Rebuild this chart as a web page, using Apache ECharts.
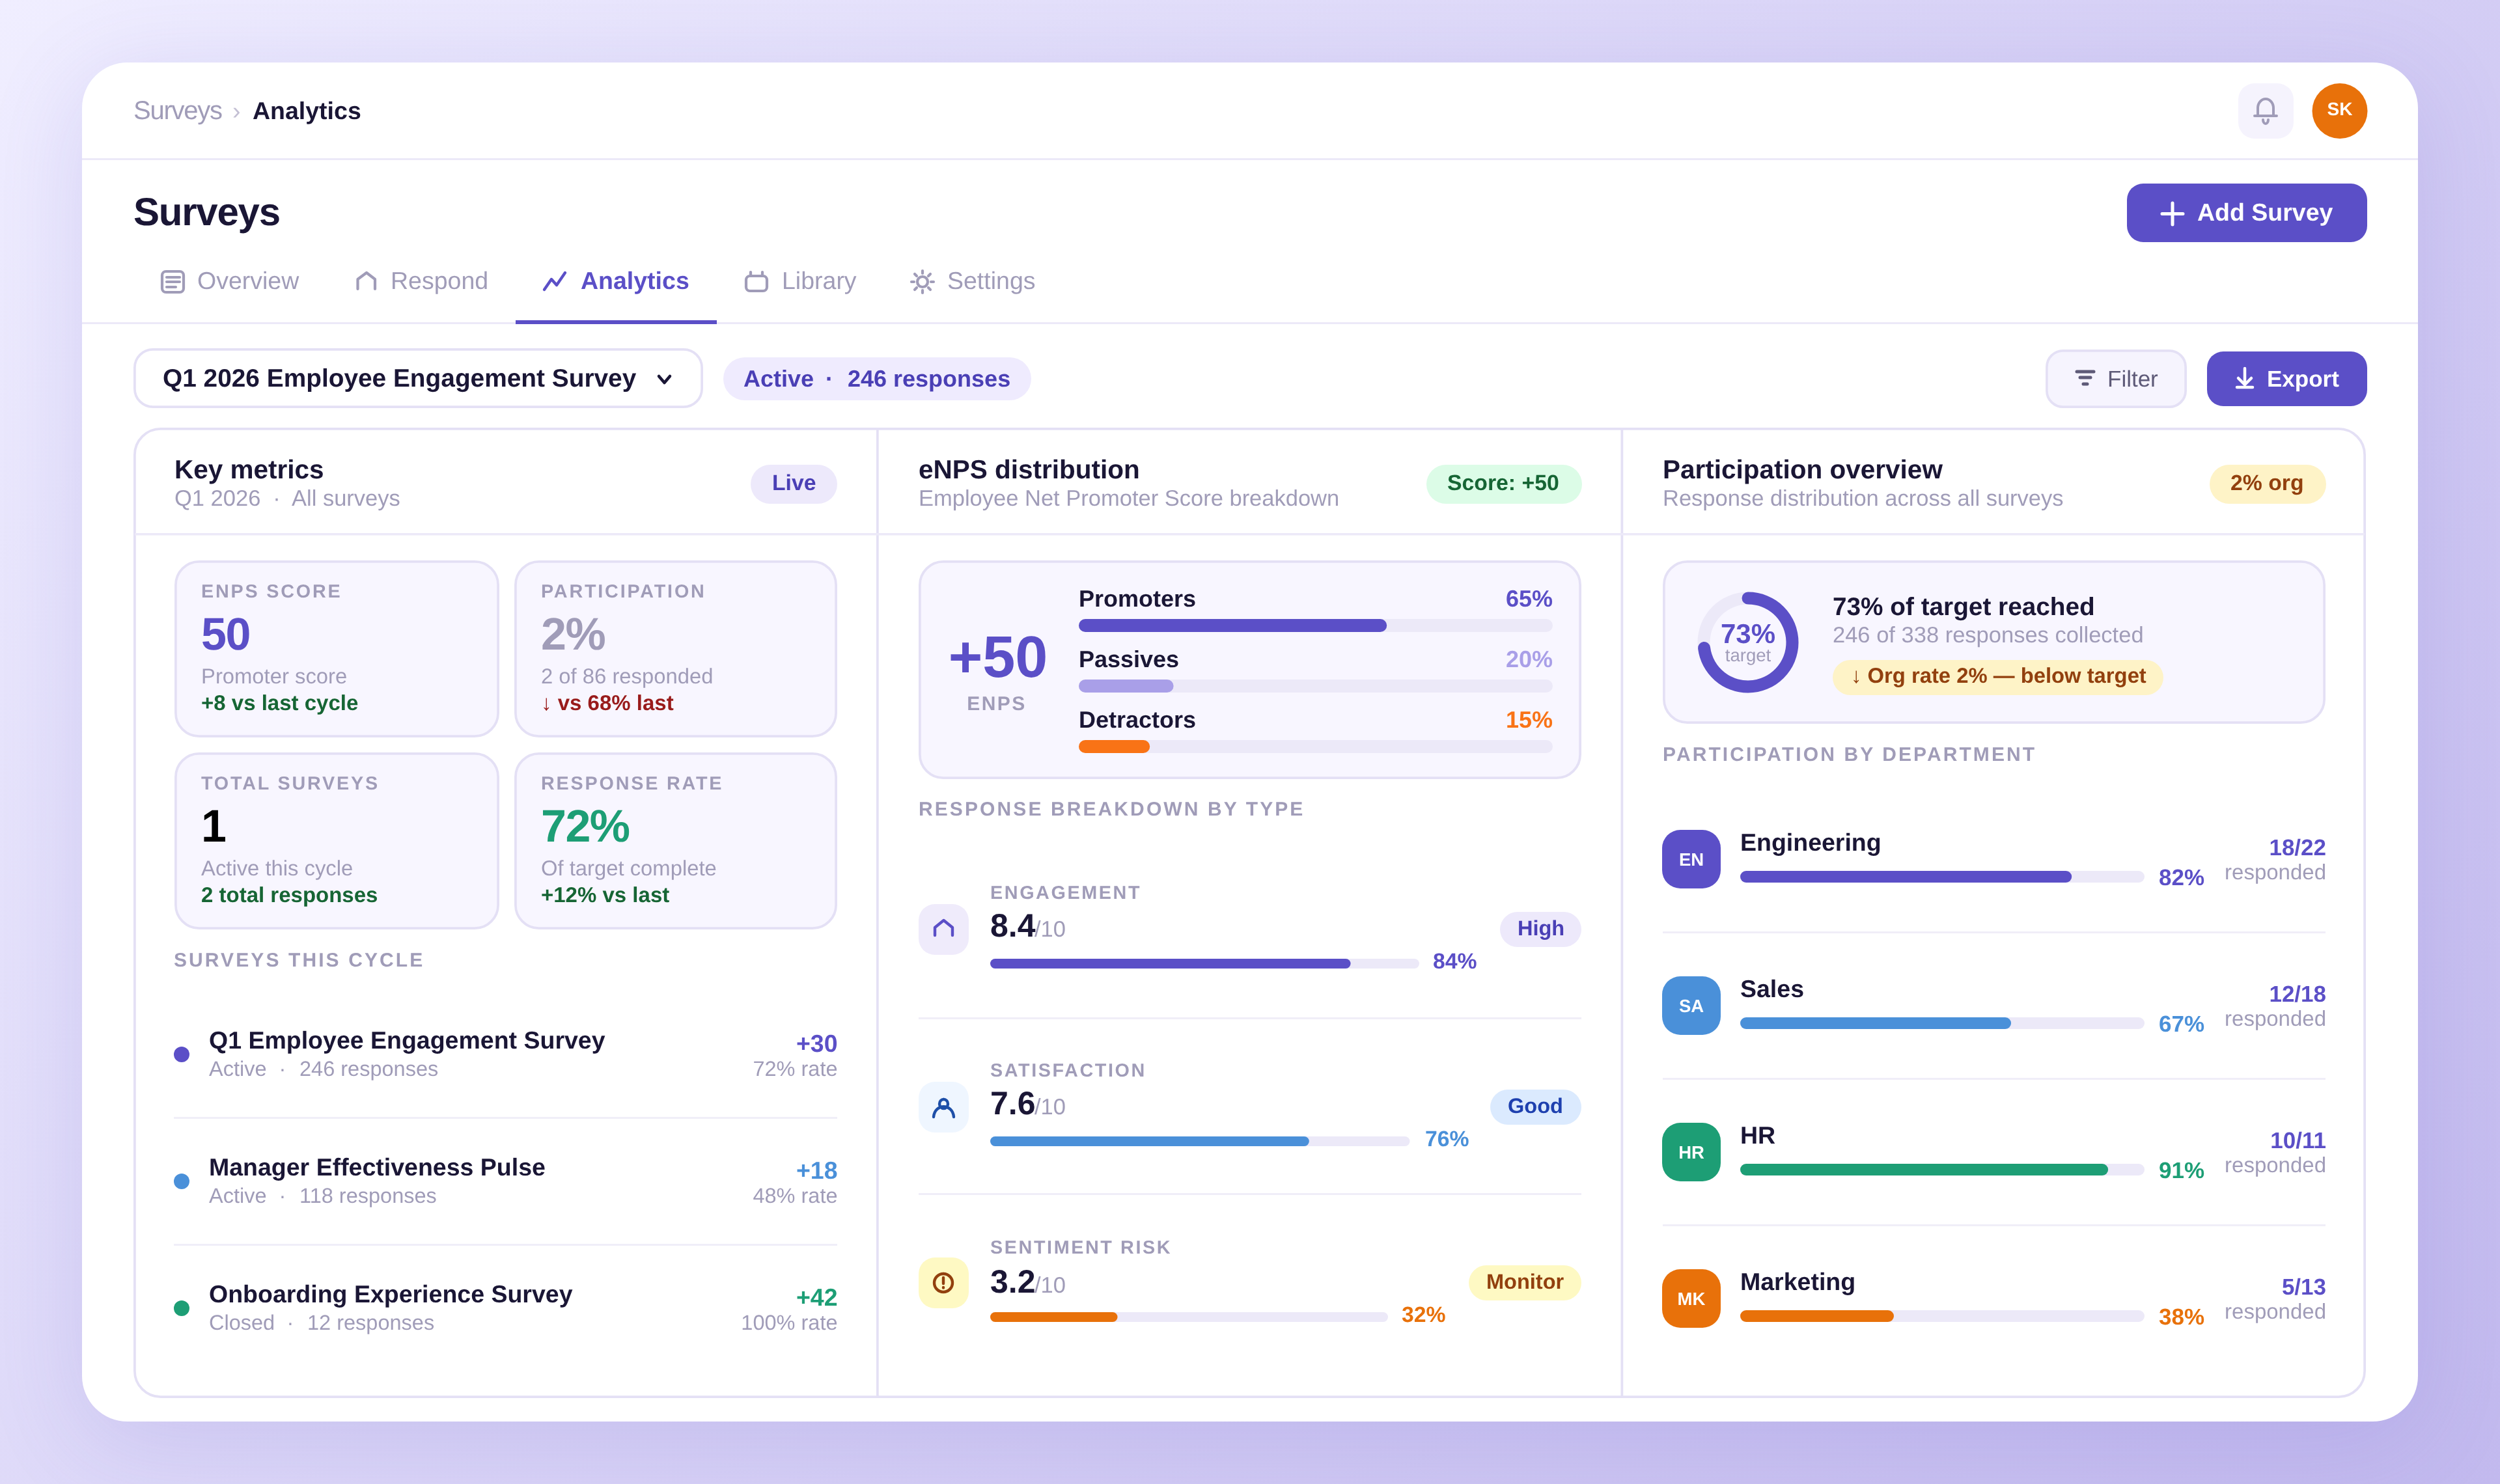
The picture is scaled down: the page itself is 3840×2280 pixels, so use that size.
<!DOCTYPE html>
<html>
<head>
<meta charset="utf-8">
<title>Surveys analytics</title>
<style>
html,body{margin:0;padding:0;background:#fff}
#chart{width:3840px;height:2280px}
</style>
<script src="https://cdn.jsdelivr.net/npm/echarts@6/dist/echarts.min.js"></script>
</head>
<body>
<div id="chart"></div>
<script>
// data
var tabNames = ['Overview', 'Respond', 'Analytics', 'Library', 'Settings'];
var metricLabels = ['ENPS SCORE', 'PARTICIPATION', 'TOTAL SURVEYS', 'RESPONSE RATE'];
var metricValues = ['50', '2%', '1', '72%'];
var metricNotes = ['Promoter score', '2 of 86 responded', 'Active this cycle', 'Of target complete'];
var metricDeltas = ['+8 vs last cycle', '↓ vs 68% last', '2 total responses', '+12% vs last'];
var surveyNames = ['Q1 Employee Engagement Survey', 'Manager Effectiveness Pulse', 'Onboarding Experience Survey'];
var surveyStates = ['Active', 'Active', 'Closed'];
var surveyCounts = ['246 responses', '118 responses', '12 responses'];
var surveyDeltas = ['+30', '+18', '+42'];
var surveyRates = ['72% rate', '48% rate', '100% rate'];
var enpsNames = ['Promoters', 'Passives', 'Detractors'];
var enpsShares = [65, 20, 15];
var typeNames = ['ENGAGEMENT', 'SATISFACTION', 'SENTIMENT RISK'];
var typeScores = ['8.4', '7.6', '3.2'];
var typeShares = [84, 76, 32];
var typeTags = ['High', 'Good', 'Monitor'];
var targetShare = [73];
var deptNames = ['Engineering', 'Sales', 'HR', 'Marketing'];
var deptCodes = ['EN', 'SA', 'HR', 'MK'];
var deptShares = [82, 67, 91, 38];
var deptCounts = ['18/22', '12/18', '10/11', '5/13'];

// colours
var ink = '#1a1635', grey = '#a09cb8', violet = '#5b4fc7', deepViolet = '#4a3fb5', blue = '#4a90d9',
    green = '#1d9e75', orange = '#e8710a', track = '#ece9f8', line = '#ece9f8', soft = '#f0eef8',
    border = '#e4e0f5', panel = '#f8f6ff';
var fam = '"Liberation Sans", Arial, Helvetica, sans-serif';

var els = [], grids = [], xAxes = [], yAxes = [], series = [], spacing = {}, iconCount = 0;

// zrender has no letter spacing option and draws at the middle baseline,
// so spacing, unhinted metrics and the alphabetic baseline are set per string here
var nativeFill = CanvasRenderingContext2D.prototype.fillText;
CanvasRenderingContext2D.prototype.fillText = function (s, x, y, w) {
    this.letterSpacing = (spacing[s] || 0) + 'px';
    this.textRendering = 'geometricPrecision';
    this.textBaseline = 'alphabetic';
    return w === undefined ? nativeFill.call(this, s, x, y) : nativeFill.call(this, s, x, y, w);
};

function text(s, x, base, size, color, bold, align, ls) {
    if (ls) spacing[s] = ls;
    els.push({
        type: 'text', silent: true,
        style: {
            text: s, x: x, y: base, fill: color,
            font: (bold ? 'bold ' : '') + size + 'px ' + fam,
            align: align || 'left', textAlign: align || 'left',
            verticalAlign: 'middle', textVerticalAlign: 'middle'
        }
    });
}
function box(x, y, w, h, r, fill, stroke, lw) {
    var i = stroke ? lw / 2 : 0;
    els.push({
        type: 'rect', silent: true,
        shape: { x: x + i, y: y + i, width: w - 2 * i, height: h - 2 * i, r: r },
        style: { fill: fill, stroke: stroke || null, lineWidth: lw || 0 }
    });
}
function rule(x, y, w, h, color) {
    els.push({ type: 'rect', silent: true, shape: { x: x, y: y, width: w, height: h }, style: { fill: color } });
}
// the graphic component has no path type, each icon gets a small registered shape
function icon(d, color, lw, fill) {
    var name = 'icon' + (iconCount++);
    echarts.graphic.registerShape(name, echarts.graphic.extendPath(d, {}));
    els.push({
        type: name, silent: true, shape: {},
        style: { fill: fill || 'none', stroke: color, lineWidth: lw, lineCap: 'round', lineJoin: 'round' }
    });
}
function bar(name, x, y, w, h, value, color) {
    var i = grids.length;
    grids.push({ left: x, top: y, width: w, height: h, containLabel: false });
    xAxes.push({ type: 'value', gridIndex: i, min: 0, max: 100, show: false });
    yAxes.push({ type: 'category', gridIndex: i, data: [name], show: false });
    series.push({
        type: 'bar', name: name, xAxisIndex: i, yAxisIndex: i, data: [value], barWidth: h, silent: true, animation: false,
        showBackground: true, backgroundStyle: { color: track, borderRadius: h / 2 },
        itemStyle: { color: color, borderRadius: h / 2 }
    });
}

// card
els.push({
    type: 'rect', silent: true, shape: { x: 126, y: 96, width: 3588, height: 2088, r: 70 },
    style: { fill: '#fff', shadowBlur: 150, shadowColor: 'rgba(91,79,199,0.16)', shadowOffsetY: 30 }
});
rule(126, 243, 3588, 3, line);
rule(126, 495, 3588, 3, line);

// top bar
text('Surveys', 205, 183, 40, grey);
text('›', 357, 183, 37.5, '#c4c0d4');
text('Analytics', 388, 183, 37.5, ink, true);
box(3438, 128, 85, 85, 25, '#f5f3fd');
icon('M3468,178V166a12,14 0 0 1 24,0V178M3463,178H3497M3476,184a4,6 0 0 0 8,0', grey, 4);
els.push({ type: 'circle', silent: true, shape: { cx: 3594, cy: 170.5, r: 42.5 }, style: { fill: orange } });
text('SK', 3594, 177, 28, '#fff', true, 'center');

// heading and tabs
text('Surveys', 205, 346, 60, ink, true, 'left', -1.25);
box(3267, 282, 369, 90, 25, violet);
icon('M3337,312V345M3321,328.5H3353', '#fff', 5);
text('Add Survey', 3375, 339, 37.5, '#fff', true);

var tabTextX = [303, 600, 892, 1201, 1455];
tabNames.forEach(function (t, i) {
    text(t, tabTextX[i], 444, 37.5, i === 2 ? violet : grey, i === 2);
});
rule(792, 492, 309, 6, violet);
icon('M255,417H276a6,6 0 0 1 6,6V443a6,6 0 0 1 -6,6H255a6,6 0 0 1 -6,-6V423a6,6 0 0 1 6,-6ZM256,426H276M256,433H276M256,441H270', grey, 4.2);
icon('M549.5,444V429L563,419L576,429V444', grey, 4.2);
icon('M836,445L847,429L855,438L868,419', violet, 4.4);
icon('M1152,424H1172a6,6 0 0 1 6,6V441a6,6 0 0 1 -6,6H1152a6,6 0 0 1 -6,-6V430a6,6 0 0 1 6,-6ZM1153,418V424M1171,418V424', grey, 4.2);
icon('M1417,425a8,8 0 1 0 .01,0M1417,416V420M1417,446V450M1400,433H1404M1430,433H1434M1405,421L1408,424M1426,442L1429,445M1405,445L1408,442M1426,424L1429,421', grey, 4.2);

// filter row
box(205, 535, 875, 92, 28, '#fff', border, 3.75);
text('Q1 2026 Employee Engagement Survey', 250, 594, 38.85, ink, true);
icon('M1012,578L1020.5,588L1029,578', ink, 4.5);
box(1111, 549, 473, 66, 33, '#efebfe');
text('Active', 1142, 594, 36, deepViolet, true);
text('·', 1274, 594, 36, deepViolet, true, 'center');
text('246 responses', 1302, 594, 36, deepViolet, true);
box(3142, 537, 217, 90, 25, '#f6f4fe', border, 3.75);
icon('M3190,571H3216M3195,580H3211M3200,590H3206', '#5e5a78', 5);
text('Filter', 3237, 594, 35, '#5e5a78');
box(3390, 540, 246, 84, 25, violet);
icon('M3448,566V590M3438,581L3448,591L3458,581M3436,595H3460', '#fff', 4.5);
text('Export', 3482, 594, 35, '#fff', true);

// panel frame
box(205, 657, 3429, 1491, 40, '#fff', border, 3.75);
rule(1346, 659, 3.75, 1487, border);
rule(2489.5, 659, 3.75, 1487, border);
rule(207, 819, 3425, 3.5, line);

// panel heads
var headX = [268, 1411, 2554];
var headTitles = ['Key metrics', 'eNPS distribution', 'Participation overview'];
var headSubs = ['Q1 2026', 'Employee Net Promoter Score breakdown', 'Response distribution across all surveys'];
headTitles.forEach(function (t, i) {
    text(t, headX[i], 735, 40.5, ink, true);
    text(headSubs[i], headX[i], 777, 34.5, grey);
});
text('·', 425, 777, 34.5, grey, false, 'center');
text('All surveys', 448, 777, 34.5, grey);
box(1153, 714, 133, 60, 30, '#ede9fb');
text('Live', 1186, 753, 33.75, deepViolet, true);
box(2191, 714, 239, 60, 30, '#dcfce7');
text('Score: +50', 2223, 753, 33.75, '#166534', true);
box(3394, 714, 179, 60, 30, '#fef3c7');
text('2% org', 3426, 753, 33.75, '#92400e', true);

// key metrics
var metricX = [268, 790, 268, 790], metricY = [861, 861, 1156, 1156], metricW = [499, 496, 499, 496];
var metricColors = [violet, grey, '#000', green], deltaColors = ['#166534', '#991b1b', '#166534', '#166534'];
metricLabels.forEach(function (t, i) {
    var x = metricX[i] + 41, y = metricY[i];
    box(metricX[i], y, metricW[i], 272, 36, panel, border, 3.75);
    text(t, x, y + 56.5, 28.75, grey, true, 'left', 2.8);
    text(metricValues[i], x, y + 137, 70, metricColors[i], true, 'left', -1.5);
    text(metricNotes[i], x, y + 189, 32.8, grey);
    text(metricDeltas[i], x, y + 230, 33, deltaColors[i], true);
});
text('SURVEYS THIS CYCLE', 267, 1485, 30, grey, true, 'left', 3.1);
var surveyDots = [violet, blue, green], surveyTop = [1611, 1806, 2001], surveyDotX = [434, 434, 446], surveyCountX = [460, 460, 472];
surveyNames.forEach(function (t, i) {
    var b = surveyTop[i];
    els.push({ type: 'circle', silent: true, shape: { cx: 279, cy: b + 9, r: 12 }, style: { fill: surveyDots[i] } });
    text(t, 321, b, 37.5, ink, true);
    text(surveyStates[i], 321, b + 42, 32.5, grey);
    text('·', surveyDotX[i], b + 42, 32.5, grey, false, 'center');
    text(surveyCounts[i], surveyCountX[i], b + 42, 32.5, grey);
    text(surveyDeltas[i], 1286.5, b + 4.5, 37.5, surveyDots[i], true, 'right');
    text(surveyRates[i], 1286.5, b + 42, 32.5, grey, false, 'right');
});
rule(267, 1716, 1019, 3, soft);
rule(267, 1911, 1019, 3, soft);

// eNPS distribution
box(1411, 861, 1018, 336, 36, panel, border, 3.75);
text('+50', 1533, 1040, 90, violet, true, 'center');
text('ENPS', 1531, 1091, 30, grey, true, 'center', 2.5);
var enpsColors = [violet, '#a99fe8', '#f97316'], enpsBase = [932, 1025, 1118], enpsBarY = [951, 1044, 1137];
enpsNames.forEach(function (t, i) {
    text(t, 1657, enpsBase[i], 36, ink, true);
    text(enpsShares[i] + '%', 2385, enpsBase[i], 36, enpsColors[i], true, 'right');
    bar(t, 1657, enpsBarY[i], 728, 20, enpsShares[i], enpsColors[i]);
});
text('RESPONSE BREAKDOWN BY TYPE', 1411, 1253, 30, grey, true, 'left', 3.1);

var typeBase = [1381, 1654, 1926], scoreBase = [1439, 1712, 1986], typeBox = [1389, 1662, 1932], typeBarY = [1473, 1746, 2016];
var typeTrackEnd = [2180, 2165.5, 2132], typePctX = [2201, 2189, 2153], typeColors = [violet, blue, orange];
var tagX = [2304, 2289, 2256], tagY = [1401, 1674, 1944], tagFill = ['#ede9fb', '#dbeafe', '#fef9c3'], tagText = [deepViolet, '#1e40af', '#92400e'];
var iconFill = ['#efebfb', '#eff6ff', '#fef9c3'];
typeNames.forEach(function (t, i) {
    box(1411, typeBox[i], 77, 78, 25, iconFill[i]);
    text(t, 1521, typeBase[i], 28.75, grey, true, 'left', 2.6);
    text(typeScores[i], 1521, scoreBase[i], 50, ink, true);
    text('/10', 1589, scoreBase[i], 34.5, grey);
    bar(t, 1521, typeBarY[i], typeTrackEnd[i] - 1521, 15, typeShares[i], typeColors[i]);
    text(typeShares[i] + '%', typePctX[i], typeBarY[i] + 15, 33.75, typeColors[i], true);
    box(tagX[i], tagY[i], 2429 - tagX[i], 54, 27, tagFill[i]);
    text(typeTags[i], tagX[i] + 27, tagY[i] + 36, 32.5, tagText[i], true);
});
icon('M1436,1437V1425L1449.5,1414L1463,1425V1437', violet, 4.4);
icon('M1434,1716C1436,1695 1463,1695 1465,1716M1449.5,1689a6.5,7 0 1 0 .01,0', '#1e4fa8', 4.4);
icon('M1449,1957a14,14 0 1 0 .01,0M1449,1963V1972M1449,1978V1978.5', '#92400e', 4.4);
rule(1411, 1563, 1018, 3, soft);
rule(1411, 1833, 1018, 3, soft);

// participation overview
box(2554, 861, 1018, 251, 36, panel, border, 3.75);
series.push({
    type: 'gauge', center: [2685, 987], radius: 77.5, startAngle: 90, endAngle: -270, min: 0, max: 100,
    silent: true, animation: false,
    axisLine: { lineStyle: { width: 19, color: [[1, track]] } },
    progress: { show: true, roundCap: true, width: 19, itemStyle: { color: violet } },
    pointer: { show: false }, axisTick: { show: false }, splitLine: { show: false }, axisLabel: { show: false },
    title: { show: false }, detail: { show: false }, data: targetShare
});
text(targetShare[0] + '%', 2685, 987.5, 42, violet, true, 'center');
text('target', 2685, 1016, 27.5, grey, false, 'center');
text(targetShare[0] + '% of target reached', 2815, 945, 38.75, ink, true);
text('246 of 338 responses collected', 2815, 987, 34.5, grey);
box(2815, 1014, 508, 54, 27, '#fef3c7');
text('↓ Org rate 2% — below target', 2843, 1049, 32.8, '#92400e', true);
text('PARTICIPATION BY DEPARTMENT', 2554, 1169, 30, grey, true, 'left', 3.1);

var deptColors = [violet, blue, green, orange];
deptNames.forEach(function (t, i) {
    var y = 1275 + 225 * i;
    box(2553, y, 90, 90, 28, deptColors[i]);
    text(deptCodes[i], 2598, y + 55, 27.5, '#fff', true, 'center');
    text(t, 2673, y + 31.5, 37.5, ink, true);
    bar(t, 2673, y + 63, 621, 18, deptShares[i], deptColors[i]);
    text(deptShares[i] + '%', 3316, y + 85, 35, deptColors[i], true);
    text(deptCounts[i], 3573, y + 39, 35, violet, true, 'right');
    text('responded', 3573, y + 76, 33, grey, false, 'right');
    if (i < 3) rule(2554, y + 156, 1018, 3, soft);
});

var chart = echarts.init(document.getElementById('chart'), null, { renderer: 'canvas' });
chart.setOption({
    animation: false,
    backgroundColor: {
        type: 'linear', x: 390, y: -390, x2: 3450, y2: 2670, global: true,
        colorStops: [{ offset: 0, color: '#f0eeff' }, { offset: 1, color: '#c2b9ee' }]
    },
    tooltip: { show: false },
    grid: grids, xAxis: xAxes, yAxis: yAxes, series: series,
    graphic: { elements: els }
});
</script>
</body>
</html>
